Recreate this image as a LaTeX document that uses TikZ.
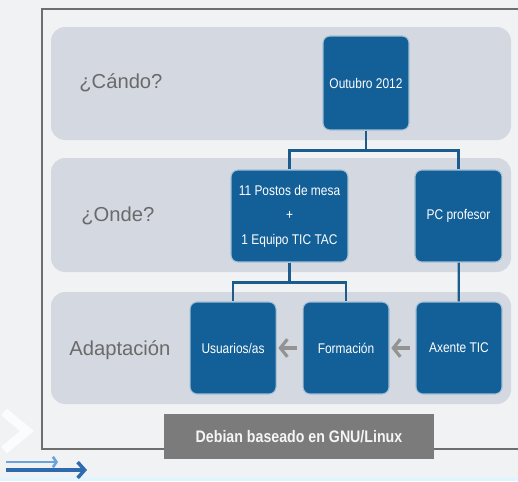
\documentclass[tikz,border=0pt]{standalone}
\usepackage{fontspec}
\setmainfont{Liberation Sans}
\newfontfamily\boxfont[FakeStretch=0.85]{Liberation Sans}
\usepackage{tikz}
\usetikzlibrary{arrows.meta, positioning}
\definecolor{boxblue}{HTML}{135F98}
\definecolor{bandgray}{HTML}{D4D9E1}
\definecolor{linkblue}{HTML}{1C5C8C}
\definecolor{labelgray}{HTML}{6A6A6A}
\definecolor{bargray}{HTML}{7B7B7B}
\definecolor{paper}{HTML}{F1F2F4}
\definecolor{framegray}{HTML}{6E6E6E}
\tikzstyle{arrow} = [line width=1.8pt,draw=gray!85,-{Straight Barb[length=4pt,width=10pt]}]

\begin{document}
\begin{tikzpicture}[x=0.02cm, y=-0.02cm]
   \tikzset{block/.style={draw=white!60!boxblue, fill=boxblue, line width=0.6pt, rounded corners=4pt, align=center, text=white, font=\boxfont\fontsize{8}{14}\selectfont, minimum width=1.72cm, minimum height=1.84cm},
   band/.style={fill=bandgray, rounded corners=8pt},
   rowlabel/.style={anchor=west, inner sep=0pt, text=labelgray, font=\fontsize{11.5}{13}\selectfont},
   bar/.style={fill=bargray, text=white!92!gray, minimum width=5.4cm, minimum height=0.9cm, font=\boxfont\fontsize{9.5}{12}\selectfont\bfseries},
   link/.style={draw=linkblue, line width=1.3pt}
   }
 \useasboundingbox (0,0) rectangle (518,481);
 \fill[paper] (0,0) rectangle (518,481);
 \fill[cyan!12] (0,477) rectangle (518,481);
 \draw[white, opacity=0.8, line width=5pt] (4,412) -- (27,431) -- (4,450);

 \draw[framegray, line width=1pt] (518,9) -- (42,9) -- (42,449) -- (518,449);
 \fill[band] (51,27) rectangle (511,140);
 \fill[band] (51,158) rectangle (511,272);
 \fill[band] (51,292) rectangle (511,404);

 \node [rowlabel] (cando) at (79,83) {¿Cándo?};
 \node [rowlabel] (onde) at (81,216) {¿Onde?};
 \node [rowlabel] (adapt) at (69,350) {Adaptación};

 \node [block, minimum height=1.88cm] (outubro) at (366,83) {Outubro 2012};
 \node [block, minimum width=2.34cm] (postos) at (289.5,216) {11 Postos de mesa\\+\\1 Equipo TIC TAC};
 \node [block, minimum width=1.74cm, right of=postos, xshift=2.38cm] (pc) {PC profesor};

 \node [block] (axente) at (459,348) {Axente TIC};
 \node [block, left of=axente, xshift=-1.26cm] (formacion) {Formación};
 \node [block, left of=formacion, xshift=-1.26cm] (usuarios) {Usuarios/as};

 \draw [link] (outubro.south) -- ++(0,20) -| (postos.north);
 \draw [link] (outubro.south) -- ++(0,20) -| (pc.north);
 \draw [link] (postos.south) -- ++(0,20) -| (usuarios.north);
 \draw [link] (postos.south) -- ++(0,20) -| (formacion.north);
 \draw [link] (pc) -- (axente);

 \draw [arrow, shorten <=3pt, shorten >=1pt] (formacion) -- (usuarios);
 \draw [arrow, shorten <=3pt, shorten >=1pt] (axente) -- (formacion);

 \node [bar] (debian) at (299,436.5) {Debian baseado en GNU/Linux};

 % decor bottom left
 \draw [cyan!60!blue!60, line width=1.5pt, -{Straight Barb[length=2pt,width=6pt]}] (6,462) -- (58,462);
 \draw [cyan!50!blue!85!black, line width=2pt, -{Straight Barb[length=4pt,width=9pt]}] (6,470) -- (87,470);
\end{tikzpicture}
\end{document}
